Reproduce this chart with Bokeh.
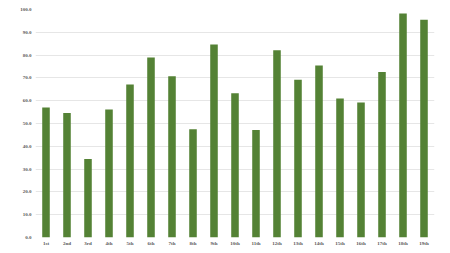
from bokeh.plotting import figure
from bokeh.models import ColumnDataSource, Range1d, FixedTicker
from bokeh.embed import file_html
from bokeh.resources import INLINE

categories = ["1st", "2nd", "3rd", "4th", "5th", "6th", "7th", "8th", "9th", "10th",
              "11th", "12th", "13th", "14th", "15th", "16th", "17th", "18th", "19th"]
values = [57.0, 54.6, 34.4, 56.1, 67.1, 78.9, 70.7, 47.5, 84.6, 63.3,
          47.1, 82.1, 69.2, 75.4, 61.0, 59.2, 72.6, 98.3, 95.5]
y_ticks = [0, 10, 20, 30, 40, 50, 60, 70, 80, 90, 100]

source = ColumnDataSource(data=dict(cat=categories, val=values))

p = figure(x_range=categories, width=450, height=253, output_backend="svg",
           toolbar_location=None, min_border_left=35, min_border_right=16,
           min_border_top=9, min_border_bottom=16)
p.y_range = Range1d(0, 100)

p.vbar(x="cat", top="val", width=0.36, source=source, color="#548235", line_color=None)

p.outline_line_color = None
p.xgrid.grid_line_color = None
p.ygrid.grid_line_color = "#e6e6e6"
p.ygrid.grid_line_width = 1

p.yaxis.ticker = FixedTicker(ticks=y_ticks)
p.yaxis.major_label_overrides = {t: f"{t:.1f}" for t in y_ticks}

for ax in (p.xaxis[0], p.yaxis[0]):
    ax.axis_line_color = None
    ax.major_tick_line_color = None
    ax.minor_tick_line_color = None
    ax.major_tick_out = 0
    ax.major_tick_in = 0
    ax.minor_tick_out = 0
    ax.major_label_text_font = "Liberation Serif"
    ax.major_label_text_font_style = "bold"
    ax.major_label_text_font_size = "5px"
    ax.major_label_text_color = "#595959"

p.yaxis.major_label_standoff = 4
p.xaxis.major_label_standoff = 3

open("out.html", "w").write(file_html(p, INLINE))
